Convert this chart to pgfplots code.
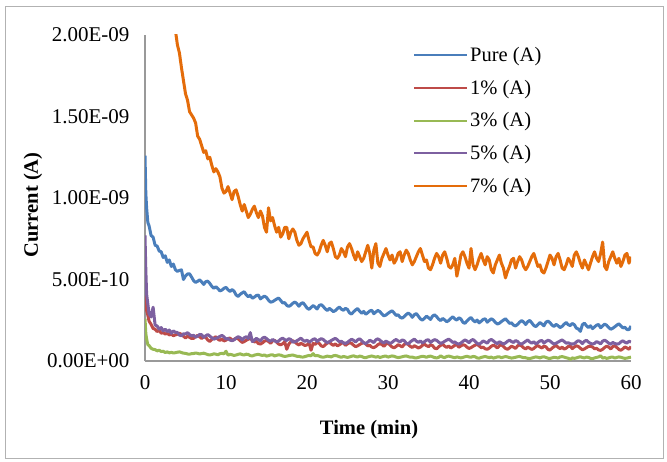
\documentclass[border=0pt]{standalone}
\usepackage{pgfplots}
\pgfplotsset{compat=1.18}
\usepackage{pgfplotstable}
\usepackage{fontspec}
\setmainfont{Liberation Serif}
\definecolor{cpure}{HTML}{4A7EBB}
\definecolor{cone}{HTML}{BE4B48}
\definecolor{cthree}{HTML}{98B954}
\definecolor{cfive}{HTML}{7D60A0}
\definecolor{cseven}{HTML}{E46C0A}
% columns: x, 7%, Pure, 1%, 5%, 3%  (current in units of 1E-10 A)
\pgfplotstableread{
x p7 pure p1 p5 p3
0 50 12.6 5.0 7.7 2.6
0.1 46 10.3 3.9 5.6 1.7
0.2 43 9.4 3.1 4.1 1.35
0.35 41 8.5 2.8 3.5 1.0
0.5 39 8.3 2.45 2.9 0.95
0.75 36.5 7.7 2.25 2.7 0.78
1.0 35 7.6 2.0 3.3 0.72
1.25 33.5 7.1 1.95 2.2 0.7
1.5 32 7.05 1.8 2.15 0.62
1.75 30.5 6.75 1.9 1.95 0.66
2.0 29.3 6.7 1.7 2.05 0.58
2.25 28 6.35 1.75 1.85 0.6
2.5 26.6 6.45 1.65 1.95 0.52
2.75 25.2 6.05 1.7 1.8 0.56
3.0 24.0 6.2 1.6 1.9 0.5
3.25 22.6 5.8 1.65 1.7 0.53
3.5 21.5 5.95 1.55 1.85 0.49
3.75 20.3 5.6 1.6 1.75 0.51
4.00 19.4 5.50 1.64 1.75 0.54
4.25 18.9 5.56 1.70 1.59 0.56
4.50 18.0 5.59 1.63 1.55 0.52
4.75 17.2 5.00 1.52 1.67 0.48
5.00 16.4 5.22 1.41 1.66 0.47
5.25 16.0 5.34 1.52 1.74 0.43
5.50 15.3 5.35 1.45 1.62 0.42
5.75 15.1 5.15 1.38 1.54 0.45
6.00 14.9 4.93 1.39 1.58 0.46
6.25 14.6 4.82 1.50 1.46 0.49
6.50 13.8 4.89 1.57 1.53 0.47
6.75 13.6 4.98 1.48 1.63 0.43
7.00 13.2 4.85 1.38 1.61 0.46
7.25 12.8 4.70 1.49 1.45 0.48
7.50 12.9 4.87 1.45 1.55 0.44
7.75 12.4 4.90 1.29 1.62 0.39
8.00 12.5 4.76 1.20 1.53 0.37
8.25 12.0 4.58 1.32 1.42 0.40
8.50 11.6 4.46 1.41 1.34 0.44
8.75 11.8 4.56 1.49 1.39 0.42
9.00 11.6 4.44 1.34 1.44 0.38
9.25 11.3 4.30 1.26 1.51 0.45
9.50 10.6 4.35 1.35 1.57 0.47
9.75 10.3 4.46 1.23 1.48 0.44
10.00 10.4 4.52 1.28 1.35 0.60
10.25 10.7 4.37 1.38 1.38 0.36
10.50 10.3 4.27 1.41 1.28 0.41
10.75 9.9 4.38 1.25 1.25 0.38
11.00 10.4 4.28 1.33 1.30 0.34
11.25 10.5 4.05 1.40 1.41 0.37
11.50 10.1 3.96 1.36 1.49 0.41
11.75 9.6 4.09 1.25 1.43 0.44
12.00 9.2 4.18 1.14 1.29 0.39
12.25 9.6 4.25 1.19 1.43 0.37
12.50 9.2 4.06 1.27 1.49 0.42
12.75 8.8 3.94 1.34 1.38 0.40
13.00 9.0 4.03 1.37 1.74 0.33
13.25 9.3 3.85 1.28 1.19 0.31
13.50 9.5 3.92 1.17 1.28 0.36
13.75 9.1 4.02 1.20 1.39 0.39
14.00 8.8 4.04 1.07 1.31 0.41
14.25 9.2 3.81 1.04 1.23 0.37
14.50 8.9 3.91 1.11 1.40 0.34
14.75 8.2 3.98 1.22 1.46 0.37
15.00 7.9 3.90 1.26 1.38 0.30
15.25 9.4 3.73 1.20 1.27 0.33
15.50 8.6 3.61 1.09 1.21 0.37
15.75 8.8 3.64 1.23 1.32 0.38
16.00 8.3 3.72 1.27 1.24 0.31
16.25 7.9 3.80 1.16 1.17 0.35
16.50 8.2 3.86 1.04 1.23 0.38
16.75 7.6 3.72 0.99 1.34 0.36
17.00 7.8 3.56 1.06 1.40 0.31
17.25 8.2 3.58 1.17 1.31 0.28
17.50 8.2 3.41 0.72 1.26 0.30
17.75 7.5 3.35 1.03 1.37 0.33
18.00 7.9 3.42 1.18 1.32 0.35
18.25 8.1 3.54 1.24 1.16 0.37
18.50 7.9 3.62 1.17 1.18 0.33
18.75 7.4 3.52 1.06 1.24 0.29
19.00 7.1 3.36 0.98 1.32 0.29
19.25 7.2 3.52 1.09 1.40 0.25
19.50 7.5 3.58 1.02 1.28 0.24
19.75 7.7 3.43 0.95 1.20 0.27
20.00 7.9 3.25 0.99 1.28 0.31
20.25 7.4 3.17 1.10 1.16 0.34
20.50 7.0 3.28 0.66 1.23 0.32
20.75 7.0 3.40 1.08 1.33 0.45
21.00 6.6 3.31 1.02 1.36 0.32
21.25 6.5 3.19 1.13 1.20 0.34
21.50 6.7 3.40 1.09 1.30 0.30
21.75 7.1 3.46 0.93 1.37 0.25
22.00 7.4 3.35 0.88 1.32 0.23
22.25 7.1 3.20 1.00 1.21 0.26
22.50 6.7 3.10 1.09 1.13 0.30
22.75 7.2 3.23 1.17 1.18 0.28
23.00 7.3 3.14 1.04 1.26 0.25
23.25 6.9 3.03 0.96 1.33 0.32
23.50 6.4 3.09 1.05 1.39 0.34
23.75 6.3 3.22 0.93 1.30 0.31
24.00 6.5 3.31 0.99 1.18 0.26
24.25 6.9 3.18 1.09 1.21 0.23
24.50 6.7 3.11 1.12 1.11 0.28
24.75 6.4 3.23 0.96 1.08 0.25
25.00 7.0 3.16 1.05 1.14 0.22
25.25 7.2 2.95 1.12 1.25 0.25
25.50 6.9 2.88 1.08 1.33 0.29
25.75 6.5 3.02 0.97 1.27 0.32
26.00 6.2 3.13 0.88 1.16 0.27
26.25 6.7 3.22 0.93 1.30 0.25
26.50 6.4 3.05 1.01 1.36 0.30
26.75 6.1 2.93 1.08 1.25 0.28
27.00 6.3 3.04 1.13 1.12 0.22
27.25 6.7 2.87 1.04 1.07 0.20
27.50 7.1 2.96 0.93 1.16 0.25
27.75 6.6 3.07 0.96 1.27 0.28
28.00 5.7 3.11 0.85 1.21 0.31
28.25 6.8 2.90 0.82 1.13 0.27
28.50 7.2 3.01 0.89 1.30 0.24
28.75 6.0 3.10 1.00 1.36 0.27
29.00 5.8 3.03 1.07 1.28 0.22
29.25 6.3 2.88 1.01 1.17 0.25
29.50 6.6 2.77 0.90 1.11 0.29
29.75 6.9 2.82 1.04 1.22 0.30
30.00 6.5 2.92 1.09 1.15 0.24
30.25 6.2 3.01 0.98 1.08 0.28
30.50 6.5 3.08 0.86 1.14 0.31
30.75 6.0 2.95 0.81 1.25 0.29
31.00 6.2 2.80 0.89 1.32 0.24
31.25 6.6 2.83 1.00 1.23 0.21
31.50 6.7 2.68 0.94 1.18 0.23
31.75 6.1 2.63 0.86 1.29 0.26
32.00 6.5 2.72 1.02 1.25 0.29
32.25 6.8 2.85 1.08 1.09 0.31
32.50 6.6 2.94 1.01 1.05 0.27
32.75 6.2 2.85 0.90 1.17 0.23
33.00 5.9 2.68 0.83 1.26 0.24
33.25 6.1 2.84 0.94 1.34 0.20
33.50 6.4 2.91 0.87 1.22 0.19
33.75 6.7 2.75 0.80 1.14 0.22
34.00 6.9 2.58 0.85 1.23 0.26
34.25 6.5 2.51 0.96 1.11 0.29
34.50 6.1 2.62 1.03 1.18 0.27
34.75 6.2 2.75 0.94 1.28 0.23
35.00 5.7 2.66 0.88 1.30 0.28
35.25 5.6 2.55 0.99 1.14 0.30
35.50 5.9 2.76 0.95 1.24 0.26
35.75 6.3 2.83 0.79 1.31 0.21
36.00 6.6 2.72 0.75 1.27 0.19
36.25 6.4 2.57 0.87 1.16 0.22
36.50 6.0 2.48 0.96 1.08 0.32
36.75 6.5 2.61 1.04 1.13 0.24
37.00 6.7 2.52 0.91 1.21 0.21
37.25 6.3 2.41 0.83 1.28 0.28
37.50 5.8 2.48 0.92 1.34 0.30
37.75 5.7 2.61 0.80 1.25 0.27
38.00 5.9 2.71 0.87 1.14 0.23
38.25 6.3 2.58 0.97 1.17 0.20
38.50 5.2 2.51 1.00 1.07 0.25
38.75 5.8 2.65 0.84 1.04 0.22
39.00 6.5 2.58 0.93 1.10 0.19
39.25 6.7 2.37 1.00 1.21 0.22
39.50 6.4 2.31 0.96 1.29 0.26
39.75 6.0 2.46 0.85 1.23 0.29
40.00 5.7 2.58 0.77 1.12 0.25
40.25 6.9 2.67 0.82 1.26 0.23
40.50 5.9 2.50 0.90 1.32 0.28
40.75 5.6 2.40 0.97 1.21 0.26
41.00 5.9 2.51 1.02 1.08 0.19
41.25 6.3 2.34 0.93 1.03 0.17
41.50 6.6 2.44 0.82 1.12 0.22
41.75 6.2 2.55 0.85 1.23 0.25
42.00 5.9 2.59 0.75 1.17 0.28
42.25 6.4 2.38 0.72 1.09 0.24
42.50 6.2 2.49 0.79 1.26 0.21
42.75 5.6 2.59 0.90 1.32 0.24
43.00 5.4 2.52 0.97 1.24 0.18
43.25 5.9 2.37 0.91 1.13 0.21
43.50 6.2 2.27 0.80 1.07 0.25
43.75 6.5 2.32 0.94 1.18 0.26
44.00 6.0 2.42 1.00 1.11 0.20
44.25 5.7 2.51 0.89 1.04 0.24
44.50 5.1 2.59 0.77 1.10 0.27
44.75 5.5 2.46 0.72 1.21 0.25
45.00 5.8 2.31 0.80 1.28 0.21
45.25 6.2 2.34 0.91 1.19 0.18
45.50 6.3 2.20 0.85 1.14 0.20
45.75 5.7 2.15 0.77 1.25 0.23
46.00 6.1 2.25 0.93 1.20 0.26
46.25 6.4 2.38 0.99 1.07 0.28
46.50 6.2 2.48 0.92 1.04 0.24
46.75 5.8 2.39 0.81 1.12 0.20
47.00 5.6 2.24 0.74 1.21 0.20
47.25 5.8 2.41 0.85 1.29 0.16
47.50 6.1 2.49 0.78 1.17 0.15
47.75 6.4 2.34 0.71 1.09 0.18
48.00 6.6 2.18 0.77 1.18 0.22
48.25 6.2 2.11 0.88 1.06 0.25
48.50 5.8 2.23 0.95 1.13 0.23
48.75 5.9 2.36 0.86 1.23 0.19
49.00 5.5 2.27 0.80 1.26 0.24
49.25 5.4 2.16 0.91 1.10 0.26
49.50 5.7 2.38 0.87 1.20 0.22
49.75 6.1 2.45 0.71 1.27 0.17
50.00 6.5 2.35 0.67 1.23 0.16
50.25 6.3 2.20 0.79 1.12 0.19
50.50 5.9 2.12 0.88 1.04 0.23
50.75 6.4 2.25 0.96 1.09 0.21
51.00 6.6 2.16 0.84 1.16 0.18
51.25 6.2 2.05 0.76 1.23 0.25
51.50 5.7 2.13 0.85 1.29 0.27
51.75 5.6 2.26 0.73 1.20 0.24
52.00 5.9 2.36 0.79 1.09 0.20
52.25 6.3 2.23 0.89 1.12 0.17
52.50 6.1 2.17 0.92 1.06 0.10
52.75 5.8 2.30 0.76 1.04 0.19
53.00 6.5 2.23 0.86 1.06 0.16
53.25 6.7 2.02 0.93 1.17 0.19
53.50 6.4 1.96 0.89 1.25 0.23
53.75 6.0 1.82 0.78 1.19 0.26
54.00 5.7 2.23 0.69 1.07 0.21
54.25 6.2 2.32 0.74 1.21 0.19
54.50 5.9 2.16 0.82 1.27 0.24
54.75 5.6 2.05 0.89 1.16 0.22
55.00 6.0 2.16 0.90 1.08 0.16
55.25 6.4 1.99 0.86 1.04 0.14
55.50 6.7 2.09 0.75 1.08 0.19
55.75 6.3 2.20 0.78 1.19 0.22
56.00 6.1 2.24 0.68 1.13 0.25
56.25 6.6 2.04 0.65 1.05 0.32
56.50 7.3 2.16 0.72 1.22 0.18
56.75 5.8 2.26 0.83 1.28 0.21
57.00 5.6 2.19 0.91 1.20 0.16
57.25 6.1 2.05 0.85 1.09 0.19
57.50 6.4 1.95 0.74 1.03 0.23
57.75 6.7 2.01 0.88 1.14 0.24
58.00 6.3 2.10 0.94 1.07 0.18
58.25 6.0 2.20 0.83 1.04 0.22
58.50 6.3 2.28 0.71 1.06 0.25
58.75 5.8 2.16 0.66 1.17 0.23
59.00 6.1 2.03 0.75 1.24 0.19
59.25 6.5 2.07 0.86 1.15 0.16
59.50 6.6 1.93 0.80 1.10 0.18
59.75 6.0 1.92 0.72 1.21 0.21
60.00 6.4 2.15 0.89 1.17 0.24
}\datatable
\begin{document}
\begin{tikzpicture}
\path[use as bounding box] (0pt,0pt) rectangle (667pt,461pt);
\draw[color=black!30, line width=1pt] (5pt,3pt) rectangle (663pt,454pt);
\begin{axis}[
  at={(145pt,100pt)}, anchor=south west,
  width=486pt, height=326pt, scale only axis,
  xmin=0, xmax=60, ymin=0, ymax=20,
  axis lines=left,
  axis line style={-, color=black!40, line width=1.3pt},
  xtick={0,10,20,30,40,50,60},
  xticklabels={0,10,20,30,40,50,60},
  ytick={0,5,10,15,20},
  yticklabels={0.00E+00,5.00E-10,1.00E-09,1.50E-09,2.00E-09},
  major tick length=0pt,
  ticklabel style={font=\fontsize{21}{25}\selectfont},
  xticklabel style={yshift=-11pt},
  yticklabel style={xshift=-12pt},
  xlabel={\textbf{Time (min)}},
  ylabel={\textbf{Current (A)}},
  label style={font=\fontsize{20.5}{24}\selectfont},
  xlabel style={at={(axis description cs:0.461,-0.209)}, anchor=center},
  ylabel style={at={(axis description cs:-0.2305,0.479)}, anchor=center},
  legend style={at={(axis description cs:0.551,0.969)}, anchor=north west,
    draw=none, fill=none, font=\fontsize{20.5}{24}\selectfont,
    row sep=13pt, inner sep=0pt},
  legend cell align=left,
  legend image code/.code={\draw[#1, line width=2.2pt] (0pt,0pt) -- (53pt,0pt);},
  every axis plot/.append style={line width=3pt, line join=round},
  clip=true,
]
\addplot[color=cpure] table[x=x,y=pure]{\datatable};
\addlegendentry{Pure (A)}
\addplot[color=cone] table[x=x,y=p1]{\datatable};
\addlegendentry{1\% (A)}
\addplot[color=cthree] table[x=x,y=p3]{\datatable};
\addlegendentry{3\% (A)}
\addplot[color=cfive] table[x=x,y=p5]{\datatable};
\addlegendentry{5\% (A)}
\addplot[color=cseven] table[x=x,y=p7]{\datatable};
\addlegendentry{7\% (A)}
\end{axis}
\end{tikzpicture}
\end{document}
